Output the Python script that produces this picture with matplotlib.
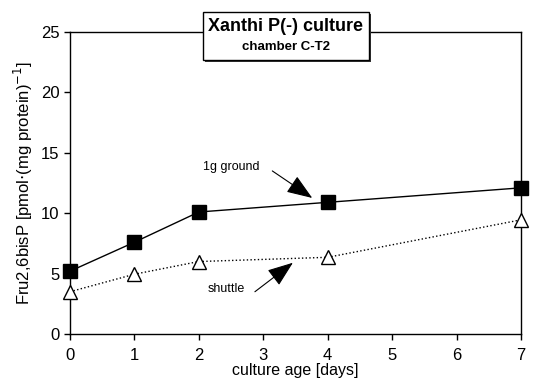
#!/usr/bin/env python3
"""Fru2,6bisP vs culture age, Xanthi P(-) culture, chamber C-T2."""
import matplotlib
matplotlib.use('Agg')
import matplotlib.pyplot as plt
from matplotlib.patches import Rectangle

days = [0, 1, 2, 4, 7]
ground_1g = [5.2, 7.6, 10.1, 10.9, 12.1]
shuttle = [3.5, 4.95, 6.0, 6.35, 9.45]

x_ticks = [0, 1, 2, 3, 4, 5, 6, 7]
y_ticks = [0, 5, 10, 15, 20, 25]

plt.rcParams['font.family'] = ['Liberation Sans', 'DejaVu Sans']

fig = plt.figure(figsize=(5.36, 3.79), dpi=100)
ax = fig.add_axes([0.1306, 0.1187, 0.8414, 0.7969])

ax.plot(days, ground_1g, '-', color='black', lw=1.0, marker='s',
        markersize=10, markerfacecolor='black', clip_on=False, zorder=3)
ax.plot(days, shuttle, ':', color='black', lw=1.0, marker='^',
        markersize=10, markerfacecolor='white', markeredgecolor='black',
        clip_on=False, zorder=3)

ax.set_xlim(0, 7)
ax.set_ylim(0, 25)
ax.set_xticks(x_ticks)
ax.set_yticks(y_ticks)
ax.tick_params(direction='out', length=4, width=1, labelsize=12)
ax.tick_params(axis='x', pad=6)
for s in ax.spines.values():
    s.set_linewidth(1.0)

ax.set_xlabel('culture age [days]', fontsize=11.5, labelpad=0)
ax.set_ylabel('Fru2,6bisP [pmol$\\cdot$(mg protein)$^{-1}$]', fontsize=12, labelpad=4)

# annotations with filled arrowheads
arrow = dict(arrowstyle='-|>,head_length=1.6,head_width=0.6', color='black',
             lw=0.8, shrinkA=0, shrinkB=0)
ax.text(2.06, 13.8, '1g ground', fontsize=9, va='center', ha='left')
ax.annotate('', xy=(3.76, 11.26), xytext=(3.14, 13.5), arrowprops=arrow)
ax.text(2.13, 3.7, 'shuttle', fontsize=9, va='center', ha='left')
ax.annotate('', xy=(3.46, 5.9), xytext=(2.87, 3.5), arrowprops=arrow)

# title box with a shadow
bx, by, bw, bh = 0.3787, 0.8417, 0.3097, 0.1266
fig.patches.append(Rectangle((bx + 0.004, by - 0.006), bw, bh, transform=fig.transFigure,
                             fc='#333333', ec='none', zorder=4))
fig.patches.append(Rectangle((bx, by), bw, bh, transform=fig.transFigure,
                             fc='white', ec='black', lw=1.0, zorder=5))
fig.text(bx + bw / 2, 0.930, 'Xanthi P(-) culture', ha='center', va='center',
         fontsize=13, fontweight='bold', zorder=6)
fig.text(bx + bw / 2, 0.876, 'chamber C-T2', ha='center', va='center',
         fontsize=9.5, fontweight='bold', zorder=6)

fig.savefig('out.png', dpi=100)
plt.close(fig)
